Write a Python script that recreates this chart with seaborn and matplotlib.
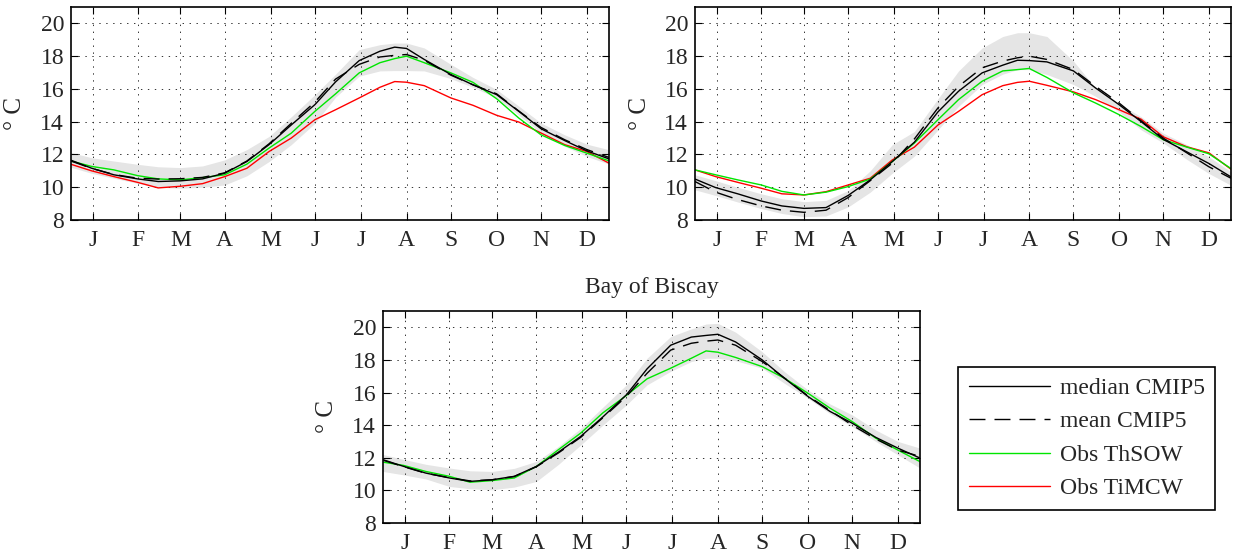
import pandas as pd
import matplotlib
matplotlib.use("Agg")
import matplotlib.pyplot as plt
import seaborn as sns
from matplotlib.lines import Line2D

# === Data (day of year) ===
DAYS = [1, 15, 30, 46, 60, 75, 90, 105, 120, 135, 150, 166, 180,
        196, 210, 220, 228, 240, 258, 273, 289, 304, 319, 335, 350, 365]
MONTH_TICKS = [16, 46, 75, 105, 136, 166, 197, 228, 258, 289, 319, 350]
MONTH_LABELS = ["J", "F", "M", "A", "M", "J", "J", "A", "S", "O", "N", "D"]
Y_TICKS = [8, 10, 12, 14, 16, 18, 20]
LEGEND_LABELS = ["median CMIP5", "mean CMIP5", "Obs ThSOW", "Obs TiMCW"]

# top-left panel
TL_MEDIAN = [11.65, 11.16, 10.76, 10.51, 10.35, 10.39, 10.51, 10.86, 11.57, 12.6, 13.8, 15.04, 16.43,
             17.73, 18.3, 18.55, 18.47, 17.8, 16.88, 16.25, 15.65, 14.63, 13.57, 12.85, 12.22, 11.73]
TL_MEAN = [11.6, 11.15, 10.78, 10.55, 10.5, 10.52, 10.6, 10.88, 11.6, 12.65, 13.9, 15.2, 16.6,
           17.5, 17.95, 18.05, 18.1, 17.75, 16.84, 16.25, 15.7, 14.65, 13.65, 12.9, 12.3, 11.82]
TL_THSOW = [11.6, 11.27, 11.06, 10.71, 10.51, 10.45, 10.59, 10.76, 11.41, 12.39, 13.3, 14.63, 15.7,
            16.98, 17.6, 17.85, 18.0, 17.6, 16.98, 16.4, 15.4, 14.22, 13.2, 12.55, 12.08, 11.61]
TL_TIMCW = [11.4, 11.0, 10.65, 10.3, 9.96, 10.06, 10.22, 10.65, 11.16, 12.18, 13.0, 14.12, 14.73,
            15.45, 16.1, 16.45, 16.41, 16.2, 15.45, 15.0, 14.39, 13.98, 13.31, 12.6, 12.18, 11.47]
TL_LOW = [11.22, 10.85, 10.55, 10.24, 10.0, 9.94, 10.0, 10.14, 10.7, 11.57, 12.6, 13.9, 15.5,
          16.78, 17.1, 17.12, 17.12, 17.1, 16.63, 16.1, 15.45, 14.4, 13.31, 12.5, 11.88, 11.41]
TL_HIGH = [12.12, 11.8, 11.6, 11.4, 11.25, 11.2, 11.3, 11.67, 12.3, 13.1, 14.3, 15.65, 16.9,
           18.4, 18.7, 18.8, 18.8, 18.5, 17.5, 16.7, 15.96, 14.95, 13.92, 13.2, 12.63, 12.29]

# top-right panel
TR_MEDIAN = [10.5, 9.98, 9.6, 9.16, 8.86, 8.71, 8.76, 9.5, 10.45, 11.57, 12.75, 14.6, 15.86,
             16.98, 17.45, 17.75, 17.73, 17.65, 17.1, 16.06, 15.04, 14.0, 12.92, 12.16, 11.45, 10.63]
TR_MEAN = [10.35, 9.7, 9.25, 8.86, 8.6, 8.47, 8.6, 9.37, 10.4, 11.47, 12.95, 14.84, 16.16,
           17.29, 17.7, 17.9, 18.0, 17.8, 17.18, 16.16, 15.14, 14.05, 13.0, 12.1, 11.25, 10.55]
TR_THSOW = [11.06, 10.76, 10.45, 10.14, 9.75, 9.53, 9.7, 10.04, 10.5, 11.57, 12.7, 14.12, 15.35,
            16.47, 17.1, 17.18, 17.25, 16.7, 15.76, 15.14, 14.43, 13.7, 12.9, 12.45, 12.04, 11.14]
TR_TIMCW = [11.06, 10.65, 10.3, 9.94, 9.6, 9.53, 9.73, 10.14, 10.55, 11.67, 12.45, 13.8, 14.63,
            15.65, 16.2, 16.4, 16.47, 16.22, 15.82, 15.35, 14.73, 14.15, 13.08, 12.47, 12.1, 11.1]
TR_LOW = [9.84, 9.5, 9.1, 8.7, 8.4, 8.2, 8.25, 8.8, 9.7, 10.86, 11.9, 13.5, 14.94,
          16.27, 16.9, 17.18, 17.18, 16.88, 16.27, 15.55, 14.6, 13.5, 12.7, 11.7, 10.84, 10.12]
TR_HIGH = [10.76, 10.4, 10.0, 9.6, 9.3, 9.12, 9.2, 9.8, 11.0, 12.6, 13.4, 15.4, 17.1,
           18.5, 19.2, 19.43, 19.43, 19.2, 17.7, 16.06, 15.1, 14.3, 13.3, 12.6, 11.86, 10.94]

# bottom panel: Bay of Biscay (no TiMCW series)
BB_MEDIAN = [11.88, 11.47, 11.06, 10.76, 10.55, 10.65, 10.86, 11.47, 12.35, 13.31, 14.5, 15.86, 17.45,
             18.9, 19.4, 19.5, 19.57, 19.1, 18.0, 16.88, 15.76, 14.84, 14.12, 13.25, 12.59, 11.98]
BB_MEAN = [11.85, 11.45, 11.05, 10.78, 10.58, 10.65, 10.85, 11.45, 12.3, 13.25, 14.45, 15.76, 17.18,
           18.6, 19.02, 19.15, 19.22, 18.9, 17.9, 16.9, 15.8, 14.9, 14.0, 13.15, 12.47, 12.08]
BB_THSOW = [11.73, 11.53, 11.16, 10.86, 10.5, 10.6, 10.76, 11.47, 12.5, 13.51, 14.75, 15.82, 16.84,
            17.49, 18.1, 18.55, 18.47, 18.15, 17.59, 16.88, 15.96, 15.04, 14.22, 13.2, 12.47, 11.76]
BB_LOW = [11.16, 10.95, 10.7, 10.24, 10.1, 10.04, 10.2, 10.55, 11.6, 12.78, 14.0, 15.24, 16.47,
          17.3, 17.9, 18.1, 18.1, 17.95, 17.49, 16.57, 15.65, 14.7, 13.92, 13.0, 12.18, 11.37]
BB_HIGH = [12.2, 11.9, 11.6, 11.37, 11.2, 11.16, 11.35, 11.78, 12.7, 13.8, 15.1, 16.47, 18.1,
           19.43, 19.9, 20.2, 20.24, 19.7, 18.5, 17.29, 16.16, 15.3, 14.63, 13.7, 13.0, 12.59]

# === Style ===
sns.set_style("ticks")
plt.rcParams["font.family"] = ["Liberation Serif", "DejaVu Serif"]
plt.rcParams["lines.scale_dashes"] = False

GREEN = "#00e600"
RED = "#ff0000"
BAND = "#e5e5e5"
DASH = (0, (11.5, 6.5))
FS = 17


def draw_panel(ax, low, high, median, mean, thsow, timcw=None, title=None):
    """One seasonal-cycle panel: model spread band plus lines."""
    df = pd.DataFrame({"day": DAYS, "median": median, "mean": mean, "thsow": thsow})
    ax.fill_between(DAYS, low, high, color=BAND, linewidth=0, zorder=0.3)

    if timcw is not None:
        df["timcw"] = timcw
        sns.lineplot(data=df, x="day", y="timcw", color=RED, linewidth=1.0,
                     estimator=None, sort=False, ax=ax)
    sns.lineplot(data=df, x="day", y="thsow", color=GREEN, linewidth=1.0,
                 estimator=None, sort=False, ax=ax)
    sns.lineplot(data=df, x="day", y="mean", color="black", linewidth=1.0,
                 linestyle=DASH, estimator=None, sort=False, ax=ax)
    sns.lineplot(data=df, x="day", y="median", color="black", linewidth=1.0,
                 estimator=None, sort=False, ax=ax)

    ax.set_xlim(1, 365)
    ax.set_ylim(8, 21)
    ax.set_xticks(MONTH_TICKS)
    ax.set_xticklabels(MONTH_LABELS)
    ax.set_yticks(Y_TICKS)
    ax.set_xlabel("")
    ax.set_ylabel("° C", fontsize=FS + 1)
    ax.yaxis.set_label_coords(-0.083, 0.5)

    ax.set_axisbelow("line")
    ax.grid(True, linestyle=(0, (1, 4)), color="#333333", linewidth=0.7)
    ax.tick_params(direction="in", top=True, right=True, length=5, width=0.8,
                   labelsize=FS, color="black")
    ax.tick_params(axis="x", pad=7)
    ax.tick_params(axis="y", pad=5)
    for sp in ax.spines.values():
        sp.set_visible(True)
        sp.set_linewidth(1.2)
        sp.set_color("black")
    if title:
        ax.set_title(title, fontsize=FS, pad=13)


# === Figure ===
fig = plt.figure(figsize=(12.33, 5.6), dpi=100)
ax_tl = fig.add_axes([71 / 1233, 0.6071, 538 / 1233, 0.3804])
ax_tr = fig.add_axes([695 / 1233, 0.6071, 536 / 1233, 0.3804])
ax_bb = fig.add_axes([383 / 1233, 0.0661, 537 / 1233, 0.3786])

draw_panel(ax_tl, TL_LOW, TL_HIGH, TL_MEDIAN, TL_MEAN, TL_THSOW, TL_TIMCW)
draw_panel(ax_tr, TR_LOW, TR_HIGH, TR_MEDIAN, TR_MEAN, TR_THSOW, TR_TIMCW)
draw_panel(ax_bb, BB_LOW, BB_HIGH, BB_MEDIAN, BB_MEAN, BB_THSOW, title="Bay of Biscay")

# === Shared legend ===
handles = [
    Line2D([], [], color="black", linewidth=1.0),
    Line2D([], [], color="black", linewidth=1.0, linestyle=DASH),
    Line2D([], [], color=GREEN, linewidth=1.0),
    Line2D([], [], color=RED, linewidth=1.0),
]
leg = fig.legend(handles, LEGEND_LABELS, loc="upper left",
                 bbox_to_anchor=(958 / 1233, 1 - 367 / 560), borderaxespad=0,
                 fontsize=FS, frameon=True, fancybox=False, framealpha=1,
                 edgecolor="black", handlelength=3.45, handletextpad=0.4,
                 labelspacing=0.5, borderpad=0.45)
leg.get_frame().set_linewidth(1.2)

fig.savefig("out.png", dpi=100)
plt.close(fig)
